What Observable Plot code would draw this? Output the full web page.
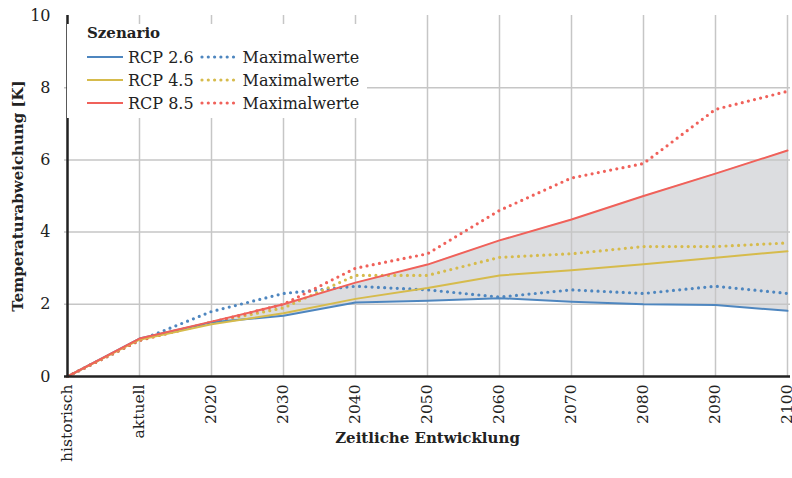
<!DOCTYPE html>
<html>
<head>
<meta charset="utf-8">
<script src="https://cdn.jsdelivr.net/npm/d3@7"></script>
<script src="https://cdn.jsdelivr.net/npm/@observablehq/plot@0.6"></script>
<style>
  html, body { margin: 0; padding: 0; background: white; }
  #wrap { position: relative; width: 792px; height: 478px; overflow: hidden; font-family: "DejaVu Serif", serif; color: #222; }
  #legend { position: absolute; left: 67px; top: 24px; width: 300px; height: 94px; background: white; font-size: 16px; }
  #legend .title { position: absolute; left: 20px; top: 0px; font-weight: bold; font-size: 15px; line-height: 18px; }
  #legend .row { position: absolute; left: 20px; height: 20px; display: flex; align-items: center; white-space: nowrap; }
  #legend svg { display: block; }
</style>
</head>
<body>
<div id="wrap">
  <div id="chart"></div>
  <div id="legend"></div>
</div>
<script>
const categories = ["historisch", "aktuell", "2020", "2030", "2040", "2050", "2060", "2070", "2080", "2090", "2100"];
const rcp26 = [0, 1.05, 1.5, 1.68, 2.05, 2.1, 2.17, 2.07, 2.0, 1.98, 1.82];
const rcp45 = [0, 1.02, 1.45, 1.75, 2.15, 2.45, 2.8, 2.94, 3.11, 3.29, 3.47];
const rcp85 = [0, 1.05, 1.52, 2.0, 2.6, 3.1, 3.77, 4.35, 5.0, 5.62, 6.26];
const max26 = [0, 1.0, 1.8, 2.3, 2.5, 2.4, 2.2, 2.4, 2.3, 2.5, 2.3];
const max45 = [0, 1.0, 1.5, 1.9, 2.8, 2.8, 3.3, 3.4, 3.6, 3.6, 3.7];
const max85 = [0, 1.0, 1.5, 2.0, 3.0, 3.4, 4.6, 5.5, 5.9, 7.4, 7.9];
const yTicks = [0, 2, 4, 6, 8, 10];
const seriesNames = ["RCP 2.6", "RCP 4.5", "RCP 8.5"];
const maxLabel = "Maximalwerte";
const colors = ["#4e86bf", "#d6bb4c", "#f0615a"];

const solid = [rcp26, rcp45, rcp85];
const dotted = [max26, max45, max85];

const solidRows = solid.flatMap((arr, i) => arr.map((v, j) => ({ cat: categories[j], value: v, series: seriesNames[i] })));
const dottedRows = dotted.flatMap((arr, i) => arr.map((v, j) => ({ cat: categories[j], value: v, series: seriesNames[i] })));
const bandRows = categories.map((c, j) => ({ cat: c, lo: rcp26[j], hi: rcp85[j] }));

const colorScale = { domain: seriesNames, range: colors };

const chart = Plot.plot({
  width: 792,
  height: 478,
  marginLeft: 64,
  marginRight: 2,
  marginTop: 15,
  marginBottom: 102,
  style: { fontFamily: "DejaVu Serif", fontSize: "16px", color: "#222", background: "white", overflow: "hidden" },
  x: { type: "point", domain: categories, padding: 0, label: null },
  y: { domain: [0, 10], label: null },
  color: colorScale,
  marks: [
    Plot.areaY(bandRows, { x: "cat", y1: "lo", y2: "hi", fill: "#dcdde0", fillOpacity: 1 }),
    Plot.gridX(categories.slice(1), { stroke: "#c6c6c6", strokeOpacity: 1, strokeWidth: 1.5 }),
    Plot.gridY(yTicks.slice(1, -1), { stroke: "#c6c6c6", strokeOpacity: 1, strokeWidth: 1.5 }),
    Plot.lineY(dottedRows, { x: "cat", y: "value", z: "series", stroke: "series", strokeWidth: 3.2, strokeDasharray: "0 6.3", strokeLinecap: "round" }),
    Plot.lineY(solidRows, { x: "cat", y: "value", z: "series", stroke: "series", strokeWidth: 2 }),
    Plot.ruleY([0], { stroke: "#222", strokeWidth: 2.5 }),
    Plot.ruleX([categories[0]], { stroke: "#222", strokeWidth: 2.5 }),
    Plot.axisY(yTicks, { tickSize: 0, tickPadding: 14, label: null, fontSize: 16 }),
    Plot.axisX({ tickRotate: -90, tickSize: 0, tickPadding: 8, label: null, fontSize: 15.5 }),
    Plot.text(["Temperaturabweichung [K]"], { frameAnchor: "left", textAnchor: "middle", lineAnchor: "middle", rotate: -90, dx: -46, fontWeight: "bold", fontSize: 15 }),
    Plot.text(["Zeitliche Entwicklung"], { frameAnchor: "bottom", lineAnchor: "middle", dy: 62, fontWeight: "bold", fontSize: 15 })
  ]
});
document.getElementById("chart").appendChild(chart);

// Legend
const legend = document.getElementById("legend");
const title = document.createElement("div");
title.className = "title";
title.textContent = "Szenario";
legend.appendChild(title);
seriesNames.forEach((name, i) => {
  const row = document.createElement("div");
  row.className = "row";
  row.style.top = (23 + i * 23) + "px";
  row.innerHTML =
    `<svg width="36" height="10"><line x1="0" x2="36" y1="5" y2="5" stroke="${colors[i]}" stroke-width="2"/></svg>` +
    `<span style="margin-left:5px">${name}</span>` +
    `<svg width="36" height="10" style="margin-left:6px"><line x1="2" x2="36" y1="5" y2="5" stroke="${colors[i]}" stroke-width="3.2" stroke-dasharray="0 6.3" stroke-linecap="round"/></svg>` +
    `<span style="margin-left:7px">${maxLabel}</span>`;
  legend.appendChild(row);
});
</script>
</body>
</html>
